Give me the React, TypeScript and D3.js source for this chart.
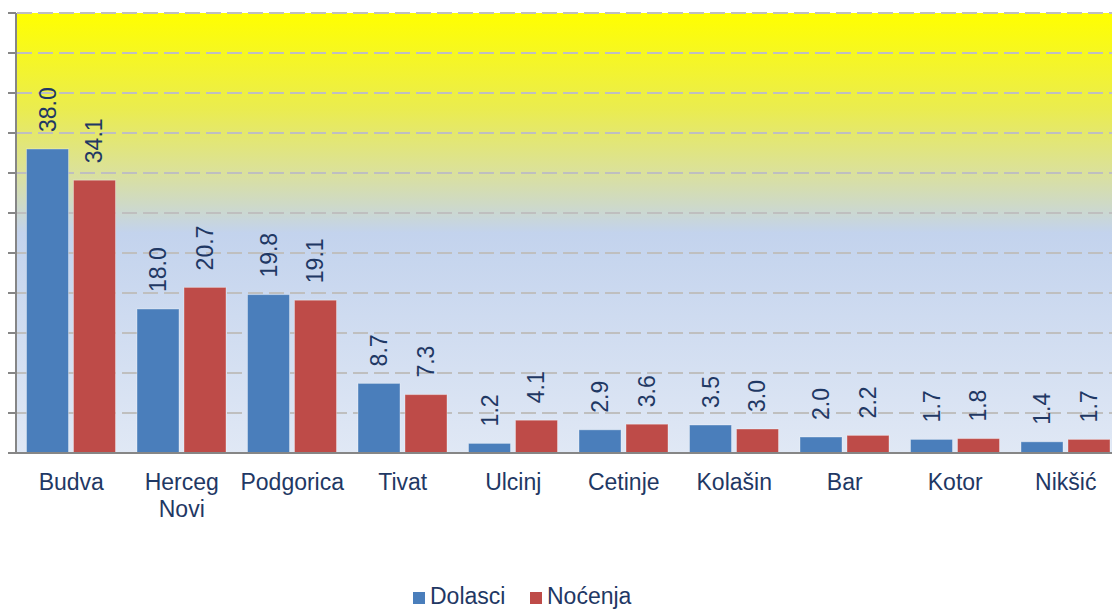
import { useMemo } from 'react';
import { scaleBand, scaleLinear, range } from 'd3';

const categories = ['Budva', 'Herceg Novi', 'Podgorica', 'Tivat', 'Ulcinj', 'Cetinje', 'Kolašin', 'Bar', 'Kotor', 'Nikšić'];
const dolasci = [38.0, 18.0, 19.8, 8.7, 1.2, 2.9, 3.5, 2.0, 1.7, 1.4];
const nocenja = [34.1, 20.7, 19.1, 7.3, 4.1, 3.6, 3.0, 2.2, 1.8, 1.7];
const seriesNames = ['Dolasci', 'Noćenja'];
const seriesColors = ['#4a7ebb', '#be4b48'];
const yTicks = range(0, 60, 5);

const width = 1112;
const height = 610;
const plot = { left: 16, right: 1121, top: 13, bottom: 453 };
const textColor = '#1f3864';
const font = 'Liberation Sans, Arial, sans-serif';
const fs = 23;

export default function App() {
  const x = useMemo(() => scaleBand<string>().domain(categories).range([plot.left, plot.right]), []);
  const x1 = useMemo(
    () => scaleBand<string>().domain(seriesNames).range([10.5, x.bandwidth() - 11]).paddingInner(0.106),
    [x]
  );
  const y = useMemo(() => scaleLinear().domain([0, 55]).range([plot.bottom, plot.top]), []);
  const values = [dolasci, nocenja];

  return (
    <svg width={width} height={height} style={{ position: 'absolute', left: 0, top: 0, display: 'block' }} fontFamily={font}>
      <defs>
        <linearGradient id="bg" x1="0" y1="0" x2="0" y2="1">
          <stop offset="0" stopColor="#ffff00" />
          <stop offset="0.22" stopColor="#eaec50" />
          <stop offset="0.36" stopColor="#dbe19a" />
          <stop offset="0.5" stopColor="#c3d3ed" />
          <stop offset="1" stopColor="#e0e8f5" />
        </linearGradient>
      </defs>
      <rect x={0} y={0} width={width} height={height} fill="#ffffff" />
      <rect x={plot.left} y={plot.top} width={width - plot.left} height={plot.bottom - plot.top} fill="url(#bg)" />

      {yTicks.filter((t) => t > 0).map((t) => (
        <line key={t} x1={plot.left + 1} x2={width} y1={y(t)} y2={y(t)} stroke="#bfbfbf" strokeWidth={2} strokeDasharray="15 6" />
      ))}

      {categories.map((c, i) => (
        <g key={c} transform={`translate(${x(c)},0)`}>
          {seriesNames.map((s, k) => {
            const v = values[k][i];
            const bx = x1(s)!;
            const cx = bx + x1.bandwidth() / 2;
            return (
              <g key={s}>
                <rect
                  x={bx}
                  y={y(v)}
                  width={x1.bandwidth()}
                  height={y(0) - y(v)}
                  fill={seriesColors[k]}
                  stroke="#ffffff"
                  strokeOpacity={0.35}
                  strokeWidth={1}
                />
                <text
                  transform={`translate(${cx},${y(v) - 17}) rotate(-90)`}
                  textAnchor="start"
                  dominantBaseline="central"
                  fontSize={fs}
                  fill={textColor}
                >
                  {v.toFixed(1)}
                </text>
              </g>
            );
          })}
          {c.split(' ').map((w, j) => (
            <text key={w} x={x.bandwidth() / 2} y={490 + j * 27} textAnchor="middle" fontSize={fs} fill={textColor}>
              {w}
            </text>
          ))}
        </g>
      ))}

      {yTicks.map((t) => (
        <line key={`t${t}`} x1={8} x2={plot.left} y1={y(t)} y2={y(t)} stroke="#868686" strokeWidth={2} />
      ))}
      <line x1={plot.left} x2={plot.left} y1={plot.top} y2={plot.bottom} stroke="#868686" strokeWidth={2} />
      <line x1={8} x2={width} y1={plot.bottom} y2={plot.bottom} stroke="#868686" strokeWidth={2} />

      <g>
        <rect x={413} y={592} width={12} height={12} fill={seriesColors[0]} />
        <text x={430} y={604} fontSize={fs} fill={textColor}>{seriesNames[0]}</text>
        <rect x={530} y={592} width={12} height={12} fill={seriesColors[1]} />
        <text x={547} y={604} fontSize={fs} fill={textColor}>{seriesNames[1]}</text>
      </g>
    </svg>
  );
}
